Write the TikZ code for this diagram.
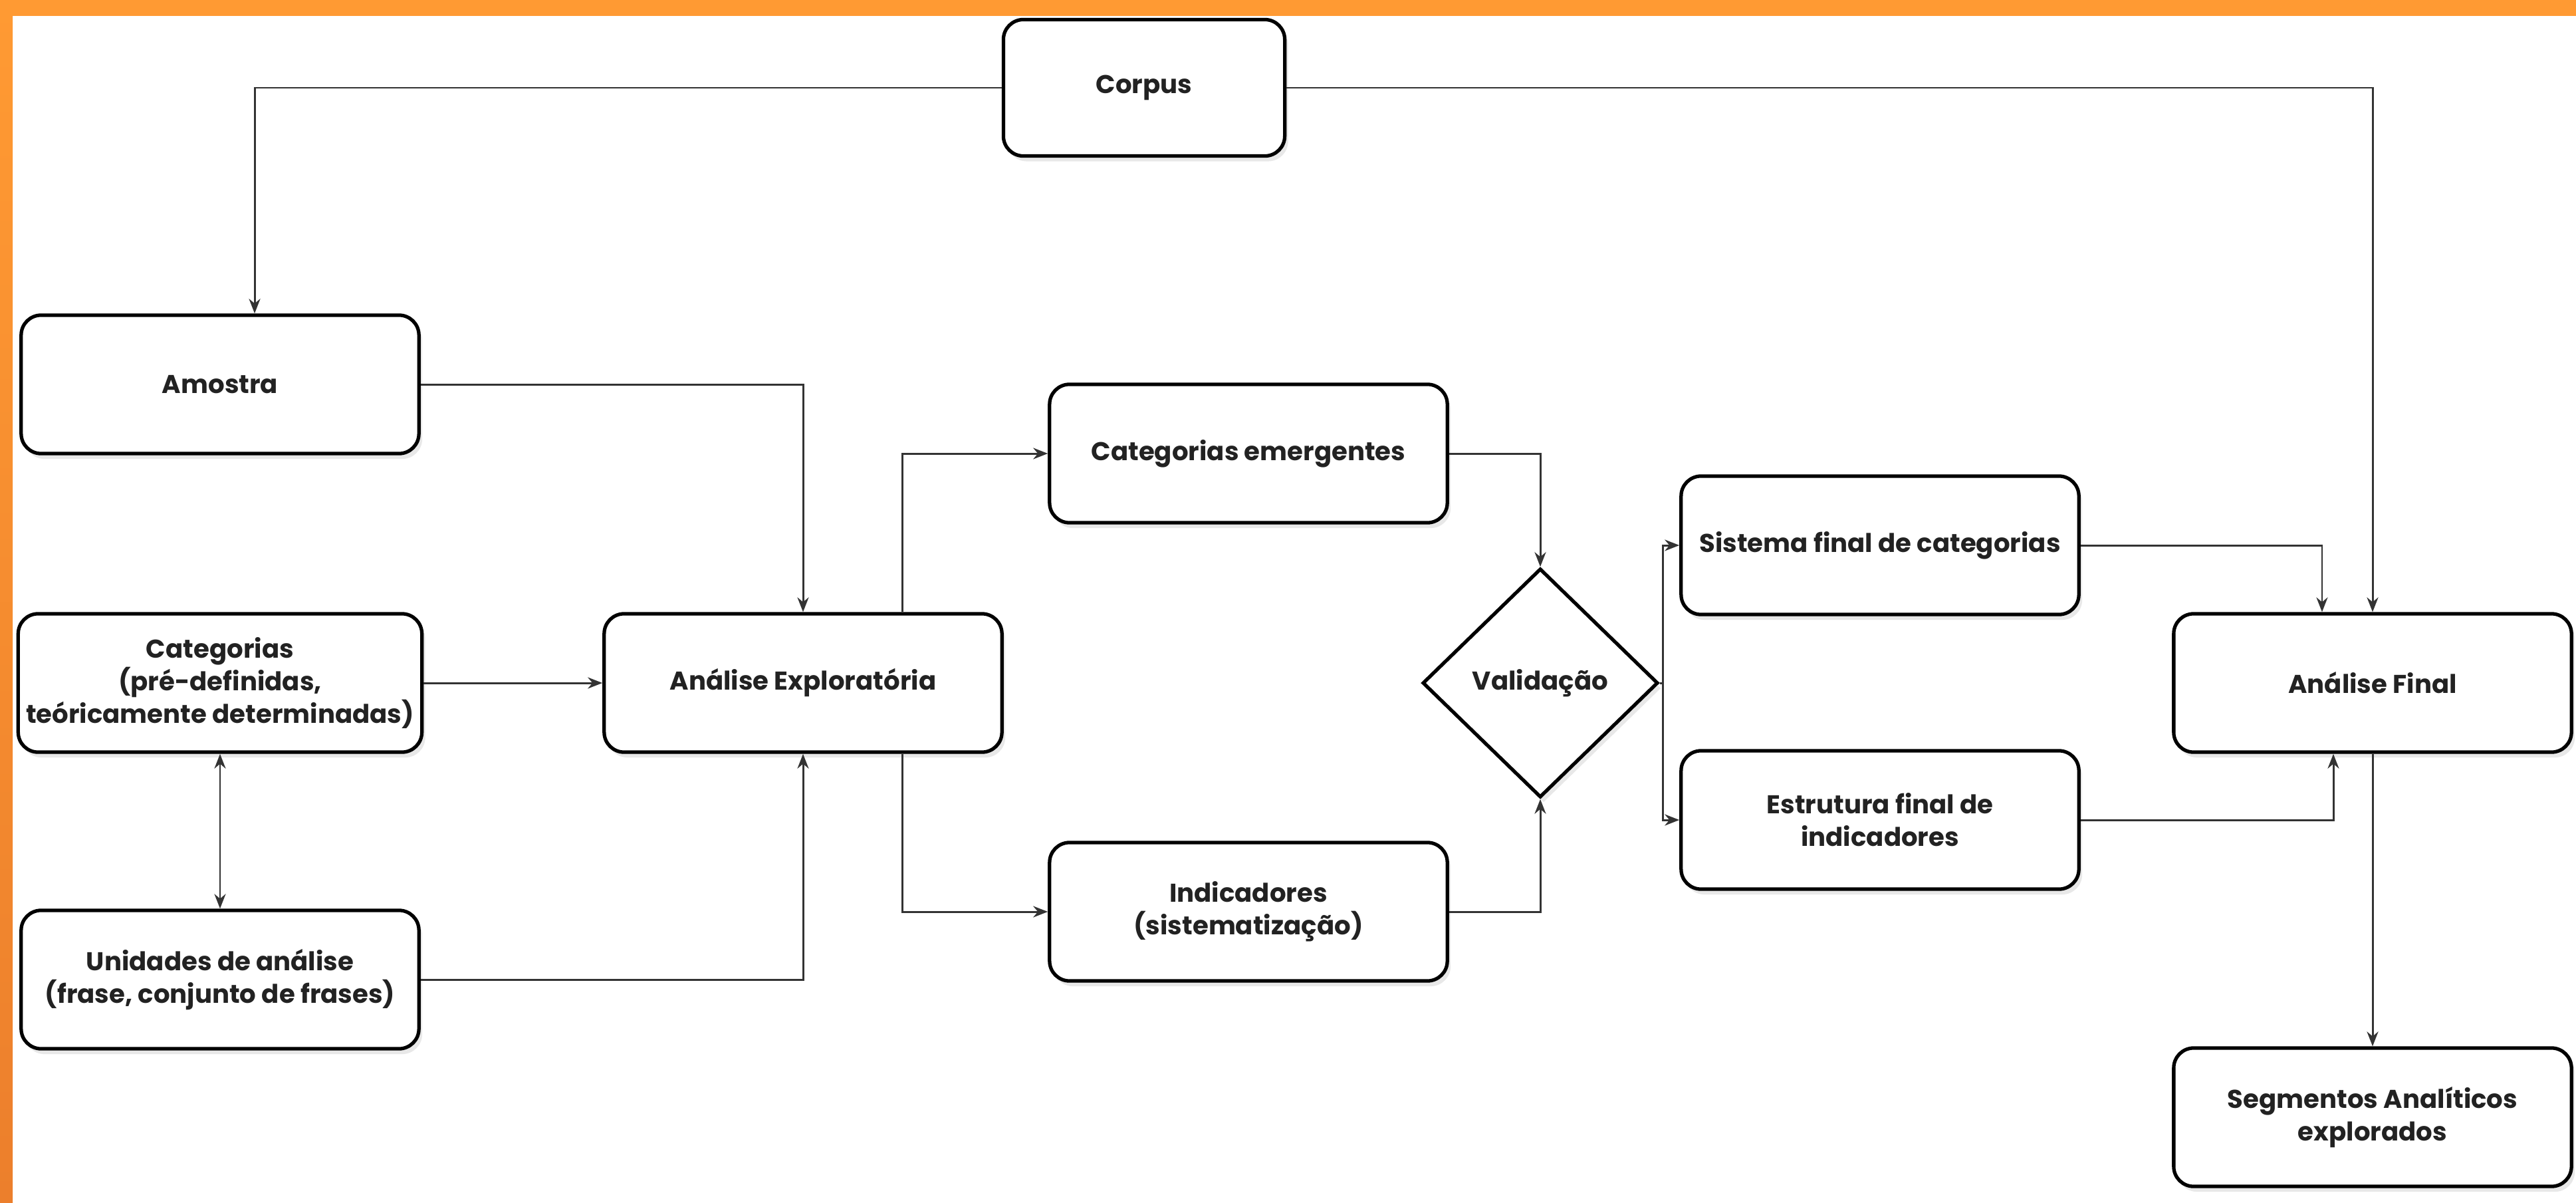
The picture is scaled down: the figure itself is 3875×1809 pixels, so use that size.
\documentclass[tikz,border=0pt]{standalone}
\usepackage{fontspec}
\setmainfont{Poppins}
\usetikzlibrary{shapes.geometric,arrows.meta,shadows}
\definecolor{orangeA}{HTML}{FF9A33}
\definecolor{orangeB}{HTML}{EC7F2C}
\definecolor{linec}{HTML}{333333}
\definecolor{textc}{HTML}{222222}
\tikzset{
  box/.style={draw=black, line width=1.5pt, rounded corners=0.3cm, fill=white,
    minimum width=5.98cm, minimum height=2.08cm, align=center, text=textc,
    font=\fontsize{11}{14}\selectfont\bfseries,
    drop shadow={opacity=0.18, shadow xshift=0.05cm, shadow yshift=-0.08cm}},
  decision/.style={draw=black, line width=1.5pt, diamond, fill=white, inner sep=0pt,
    minimum width=3.54cm, minimum height=3.44cm, align=center, text=textc,
    font=\fontsize{11}{14}\selectfont\bfseries,
    drop shadow={opacity=0.18, shadow xshift=0.05cm, shadow yshift=-0.08cm}},
  conn/.style={draw=linec, line width=0.85pt, -{Stealth[length=0.22cm,width=0.17cm]}},
  biconn/.style={draw=linec, line width=0.85pt, {Stealth[length=0.22cm,width=0.17cm]}-{Stealth[length=0.22cm,width=0.17cm]}}
}
\begin{document}
\begin{tikzpicture}[x=0.01cm,y=-0.01cm]
\useasboundingbox (0,0) rectangle (3875,1809);
\fill[white] (0,0) rectangle (3875,1809);
\fill[orangeA] (0,0) rectangle (3875,24);
\shade[top color=orangeA, bottom color=orangeB] (0,0) rectangle (19,1809);

\node[box, minimum width=4.23cm, minimum height=2.05cm] (corpus) at (1721,132) {Corpus};
\node[box] (amostra) at (331,578) {Amostra};
\node[box] (cat) at (331,1027) {Categorias\\(pré-definidas,\\teóricamente determinadas)};
\node[box] (uni) at (331,1473) {Unidades de análise\\(frase, conjunto de frases)};
\node[box] (ae) at (1208,1027) {Análise Exploratória};
\node[box] (catem) at (1878,682) {Categorias emergentes};
\node[box] (ind) at (1878,1371) {Indicadores\\(sistematização)};
\node[decision] (val) at (2317,1027) {Validação};
\node[box] (sis) at (2828,820) {Sistema final de categorias};
\node[box] (est) at (2828,1233) {Estrutura final de\\indicadores};
\node[box] (af) at (3569,1027) {Análise Final};
\node[box] (seg) at (3569,1680) {Segmentos Analíticos\\explorados};

\draw[conn] (corpus.west) -| ([xshift=0.52cm]amostra.north);
\draw[conn] (corpus.east) -| (af.north);
\draw[conn] (amostra.east) -| (ae.north);
\draw[conn] (cat.east) -- (ae.west);
\draw[conn] (uni.east) -| (ae.south);
\draw[biconn] (cat.south) -- (uni.north);
\draw[conn] ([xshift=1.495cm]ae.north) |- (catem.west);
\draw[conn] ([xshift=1.495cm]ae.south) |- (ind.west);
\draw[conn] (catem.east) -| (val.north);
\draw[conn] (ind.east) -| (val.south);
\draw[conn] (val.east) -- ++(5,0) |- (sis.west);
\draw[conn] (val.east) -- ++(5,0) |- (est.west);
\draw[conn] (sis.east) -| ([xshift=-0.76cm]af.north);
\draw[conn] (est.east) -| ([xshift=-0.59cm]af.south);
\draw[conn] (af.south) -- (seg.north);
\end{tikzpicture}
\end{document}
